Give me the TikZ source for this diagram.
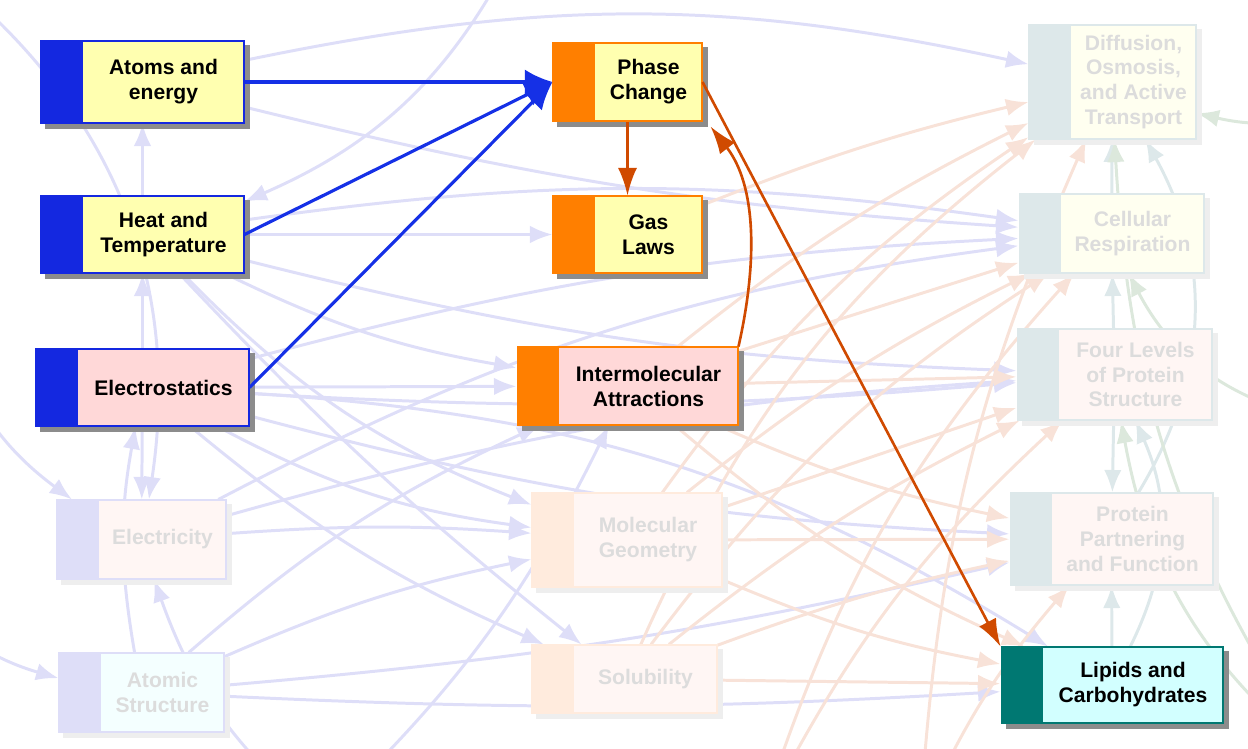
\documentclass[tikz,border=0pt]{standalone}
\usepackage{fontspec}
\setmainfont{Liberation Sans}
\usetikzlibrary{arrows.meta,backgrounds}

% couleurs
\definecolor{mblue}{HTML}{1428E0}
\definecolor{mbluel}{HTML}{1530E6}
\definecolor{morange}{HTML}{FF7F00}
\definecolor{mrust}{HTML}{D04A00}
\definecolor{mteal}{HTML}{007872}
\definecolor{myel}{HTML}{FFFFB0}
\definecolor{mpink}{HTML}{FFD8D8}
\definecolor{mcyan}{HTML}{D2FFFF}
\definecolor{mshadow}{HTML}{8C8C8C}
\definecolor{fblue}{HTML}{DEDEF8}
\definecolor{forange}{HTML}{F8E2D8}
\definecolor{fostrip}{HTML}{FFEBDD}
\definecolor{fteal}{HTML}{DDE8EA}
\definecolor{fgreen}{HTML}{DCE8DC}
\definecolor{fyel}{HTML}{FFFFF0}
\definecolor{fpink}{HTML}{FFF6F4}
\definecolor{fcyan}{HTML}{F4FFFF}
\definecolor{ftext}{HTML}{DCDCDC}
\definecolor{fshadow}{HTML}{EEEEEE}

\newcommand{\boxtext}[2]{\hspace*{0.84cm}\parbox{#1cm}{\centering #2}}

\tikzset{
  topic/.style 2 args={rectangle, draw=#1, fill=#2, line width=0.6pt,
    inner xsep=0pt, inner ysep=0pt,
    font=\fontsize{12}{14.2}\selectfont\bfseries,
    path picture={\fill[#1] (path picture bounding box.south west)
      rectangle ([xshift=0.84cm]path picture bounding box.north west);}},
  faded/.style={text=ftext},
  fedge/.style={draw=#1, line width=1.7pt, ->},
  blueedge/.style={draw=mbluel, line width=1.8pt, -{Latex[length=0.55cm,width=0.5cm]}},
  rustedge/.style={draw=mrust, line width=1.5pt, -{Latex[length=0.55cm,width=0.38cm]}},
}

\begin{document}
\begin{tikzpicture}[x=0.02cm, y=-0.02cm, >={Latex[length=0.45cm,width=0.35cm]}]
\useasboundingbox (0,0) rectangle (1248,748);

% les noeuds actifs
\node (atoms) [topic={mblue}{myel}, minimum height=1.64cm] at (142.5,82)
  {\boxtext{3.22}{Atoms and\\energy}};
\node (heat) [topic={mblue}{myel}, minimum height=1.54cm] at (142.5,234.5)
  {\boxtext{3.22}{Heat and\\Temperature}};
\node (electro) [topic={mblue}{mpink}, minimum height=1.54cm] at (142.5,387.5)
  {\boxtext{3.42}{Electrostatics}};
\node (phase) [topic={morange}{myel}, minimum height=1.56cm] at (627.5,82)
  {\boxtext{2.14}{Phase\\Change}};
\node (gas) [topic={morange}{myel}, minimum height=1.54cm] at (627.5,234.5)
  {\boxtext{2.14}{Gas\\Laws}};
\node (inter) [topic={morange}{mpink}, minimum height=1.56cm] at (627.5,386)
  {\boxtext{3.58}{Intermolecular\\Attractions}};
\node (lipids) [topic={mteal}{mcyan}, minimum height=1.52cm] at (1112,685)
  {\boxtext{3.60}{Lipids and\\Carbohydrates}};

% les noeuds pales
\node (electricity) [topic={fblue}{fpink}, faded, minimum height=1.58cm] at (141.5,539.5)
  {\boxtext{2.54}{Electricity}};
\node (atomic) [topic={fblue}{fcyan}, faded, minimum height=1.58cm] at (141.5,692.5)
  {\boxtext{2.46}{Atomic\\Structure}};
\node (molecular) [topic={fostrip}{fpink}, faded, minimum height=1.88cm] at (627,540)
  {\boxtext{2.96}{Molecular\\Geometry}};
\node (solubility) [topic={fostrip}{fpink}, faded, minimum height=1.36cm] at (624.5,679)
  {\boxtext{2.86}{Solubility}};
\node (diffusion) [topic={fteal}{fyel}, faded, minimum height=2.28cm] at (1112.5,82)
  {\boxtext{2.50}{Diffusion,\\Osmosis,\\and Active\\Transport}};
\node (cellular) [topic={fteal}{fyel}, faded, minimum height=1.58cm] at (1111.5,233.5)
  {\boxtext{2.86}{Cellular\\Respiration}};
\node (four) [topic={fteal}{fpink}, faded, minimum height=1.82cm] at (1114.5,374.5)
  {\boxtext{3.06}{Four Levels\\of Protein\\Structure}};
\node (protein) [topic={fteal}{fpink}, faded, minimum height=1.84cm] at (1111.5,539)
  {\boxtext{3.22}{Protein\\Partnering\\and Function}};

% bouts libres hors cadre
\coordinate (offNW) at (-60,-30);
\coordinate (offN) at (520,-60);
\coordinate (offW1) at (-60,300);
\coordinate (offW2) at (-60,620);
\coordinate (offS1) at (320,820);
\coordinate (offS2) at (760,820);
\coordinate (offS3) at (920,820);
\coordinate (offE1) at (1320,120);
\coordinate (offE2) at (1320,420);
\coordinate (offE3) at (1320,760);

\begin{pgfonlayer}{background}
% liens pales
\foreach \a/\b/\bend in {heat/atoms/0, electro/heat/0, electro/electricity/0,
    heat/gas/0, heat/inter/-8, heat/molecular/-12, heat/four/-6, heat/cellular/8,
    heat/solubility/-4, electro/inter/0, electro/molecular/-10, electro/solubility/-8,
    electro/lipids/14, electro/protein/-6, electro/four/-4, electro/cellular/6,
    atoms/diffusion/12, atoms/cellular/-5, atomic/inter/8, atomic/molecular/6,
    electricity/molecular/4, electricity/cellular/10, electricity/four/6,
    atomic/protein/-4, atomic/lipids/-3, atomic/electro/10,
    offNW/electricity/30, offW1/electricity/-20, offW2/atomic/-10,
    offS1/electricity/15, offN/heat/20, offS1/inter/-10}
  \draw[fedge=fblue] (\a) to[bend left=\bend] (\b);
\foreach \a/\b/\bend in {gas/diffusion/4, inter/diffusion/6, inter/cellular/0,
    inter/four/0, inter/protein/-6, inter/lipids/-8, molecular/diffusion/10,
    molecular/cellular/6, molecular/four/0, molecular/protein/0, molecular/lipids/-6,
    solubility/diffusion/14, solubility/cellular/10, solubility/four/6,
    solubility/protein/4, solubility/lipids/0, offS2/four/10, offS3/protein/8,
    offS2/cellular/12, offS3/diffusion/10}
  \draw[fedge=forange] (\a) to[bend left=\bend] (\b);
\foreach \a/\b/\bend in {cellular/diffusion/0, four/cellular/0, four/protein/0,
    lipids/protein/0, protein/diffusion/-30, lipids/four/-25}
  \draw[fedge=fteal] (\a) to[bend left=\bend] (\b);
\foreach \a/\b/\bend in {offE1/diffusion/10, offE2/cellular/25, offE3/four/20,
    offE3/diffusion/15}
  \draw[fedge=fgreen] (\a) to[bend left=\bend] (\b);

% ombres
\foreach \n in {atoms,heat,electro,phase,gas,inter,lipids}
  \fill[mshadow] ([shift={(5,5)}]\n.south west) rectangle ([shift={(5,5)}]\n.north east);
\foreach \n in {electricity,atomic,molecular,solubility,diffusion,cellular,four,protein}
  \fill[fshadow] ([shift={(5,5)}]\n.south west) rectangle ([shift={(5,5)}]\n.north east);
\end{pgfonlayer}

% liens actifs
\draw[blueedge] (atoms.east) -- (phase.west);
\draw[blueedge] (heat.east) -- (phase.west);
\draw[blueedge] (electro.east) -- (phase.west);
\draw[rustedge] (phase) -- (gas);
\draw[rustedge] (phase.east) -- (lipids.north west);
\draw[rustedge] (inter.north east) .. controls (758,260) and (756,185) .. ([shift={(8,5)}]phase.south east);

\end{tikzpicture}
\end{document}
